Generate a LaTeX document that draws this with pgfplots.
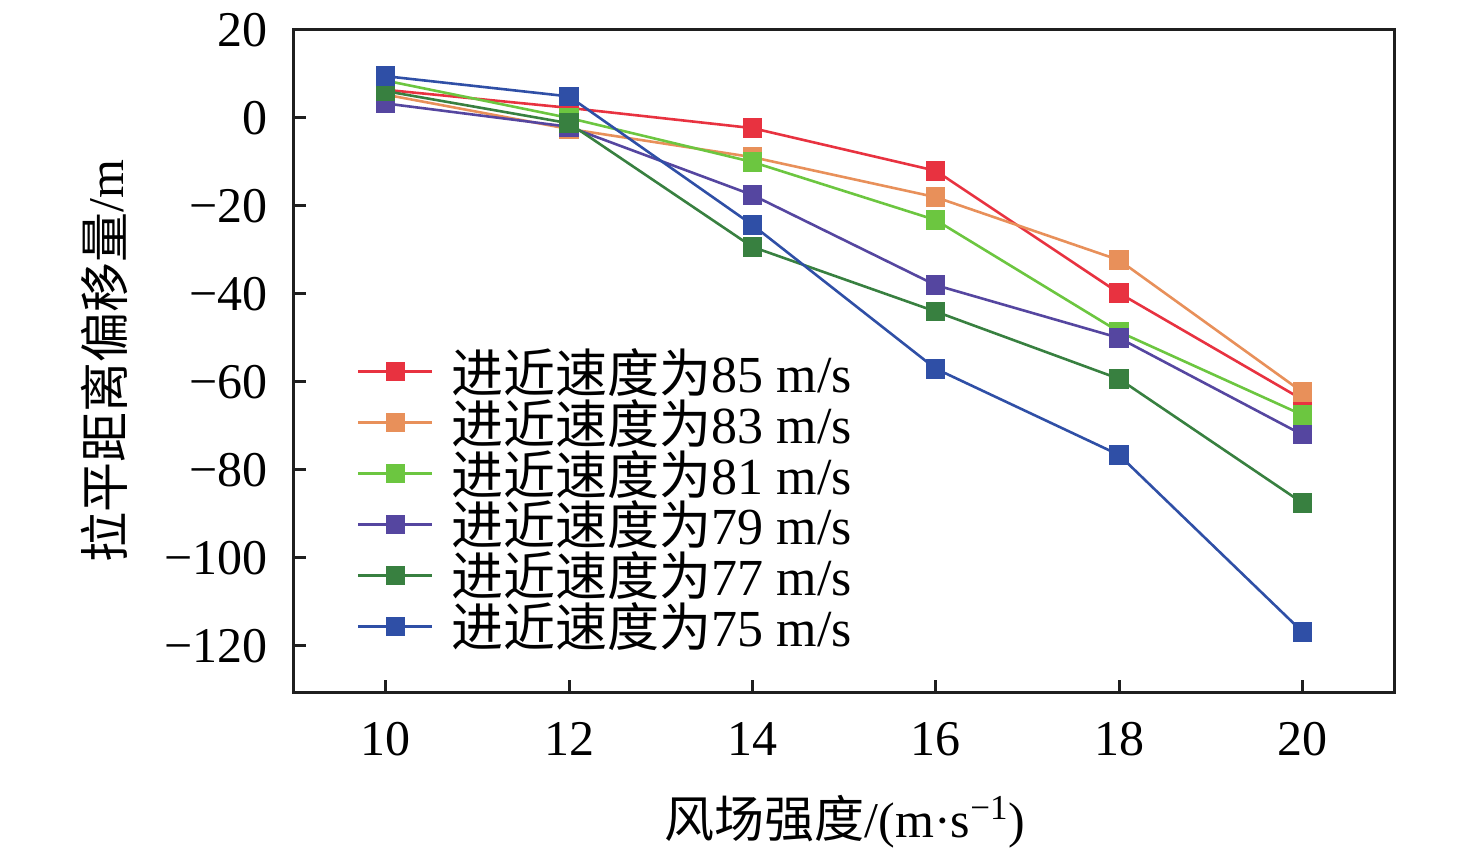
\documentclass[border=0pt]{standalone}
\usepackage{fontspec}
\setmainfont{Liberation Serif}
\newfontfamily\cjk{Noto Sans CJK SC}
\usepackage{pgfplots}
\pgfplotsset{compat=1.18}
\definecolor{c85}{RGB}{232,50,64}
\definecolor{c83}{RGB}{232,144,90}
\definecolor{c81}{RGB}{108,198,64}
\definecolor{c79}{RGB}{85,70,160}
\definecolor{c77}{RGB}{56,128,64}
\definecolor{c75}{RGB}{47,79,166}
\begin{document}
\begin{tikzpicture}
\begin{axis}[
  at={(0,0)}, anchor=south west,
  scale only axis, width=550pt, height=331pt,
  xmin=9, xmax=21, ymin=-130.5, ymax=20,
  xtick={10,12,14,16,18,20}, xticklabels={10,12,14,16,18,20},
  ytick={-120,-100,-80,-60,-40,-20,0,20},
  yticklabels={−120,−100,−80,−60,−40,−20,0,20},
  tick align=inside, xtick pos=bottom, ytick pos=left,
  major tick length=6pt,
  axis line style={line width=1.5pt, color=black!88},
  every tick/.style={line width=1.5pt, color=black!88},
  every tick label/.append style={font=\fontsize{25}{30}\selectfont},
  xticklabel style={anchor=north, inner sep=0pt, yshift=-15pt},
  yticklabel style={anchor=east, inner sep=0pt, xshift=-13pt},
  xlabel={{\cjk 风场强度}/(m·s\textsuperscript{−1})},
  ylabel={{\cjk 拉平距离偏移量}/m},
  label style={font=\fontsize{25}{30}\selectfont},
  xlabel style={at={(axis description cs:0.501,-0.196)}, anchor=center},
  ylabel style={at={(axis description cs:-0.1727,0.5)}, anchor=center},
  legend style={at={(axis description cs:0.057,0.526)}, anchor=north west,
    draw=none, fill=none, inner sep=0pt,
    font=\fontsize{26}{26}\selectfont, row sep=-2pt, cells={anchor=west},
    /tikz/every odd column/.append style={column sep=7pt}},
  legend image code/.code={\draw[mark repeat=2,mark phase=2] plot coordinates {(0cm,0cm)(0.65cm,0cm)(1.3cm,0cm)};},
  every axis plot/.append style={line width=1.3pt, mark=square*, mark size=4.25pt, mark options={solid}},
]
\addplot[color=c85] coordinates {(10,6.4)(12,2.3)(14,-2.3)(16,-12)(18,-39.8)(20,-64)};
\addlegendentry{{\cjk 进近速度为}85 m/s}
\addplot[color=c83] coordinates {(10,5.3)(12,-2.5)(14,-8.9)(16,-18)(18,-32.3)(20,-62.3)};
\addlegendentry{{\cjk 进近速度为}83 m/s}
\addplot[color=c81] coordinates {(10,8.5)(12,0)(14,-10)(16,-23.2)(18,-48.6)(20,-67.5)};
\addlegendentry{{\cjk 进近速度为}81 m/s}
\addplot[color=c79] coordinates {(10,3.3)(12,-2)(14,-17.5)(16,-38)(18,-50)(20,-72)};
\addlegendentry{{\cjk 进近速度为}79 m/s}
\addplot[color=c77] coordinates {(10,6.1)(12,-1.2)(14,-29.3)(16,-44)(18,-59.3)(20,-87.5)};
\addlegendentry{{\cjk 进近速度为}77 m/s}
\addplot[color=c75] coordinates {(10,9.5)(12,4.9)(14,-24.3)(16,-57)(18,-76.6)(20,-116.8)};
\addlegendentry{{\cjk 进近速度为}75 m/s}
\end{axis}
\pgfresetboundingbox
\path[use as bounding box] (-147pt,-82.5pt) rectangle (591pt,346pt);
\end{tikzpicture}
\end{document}
